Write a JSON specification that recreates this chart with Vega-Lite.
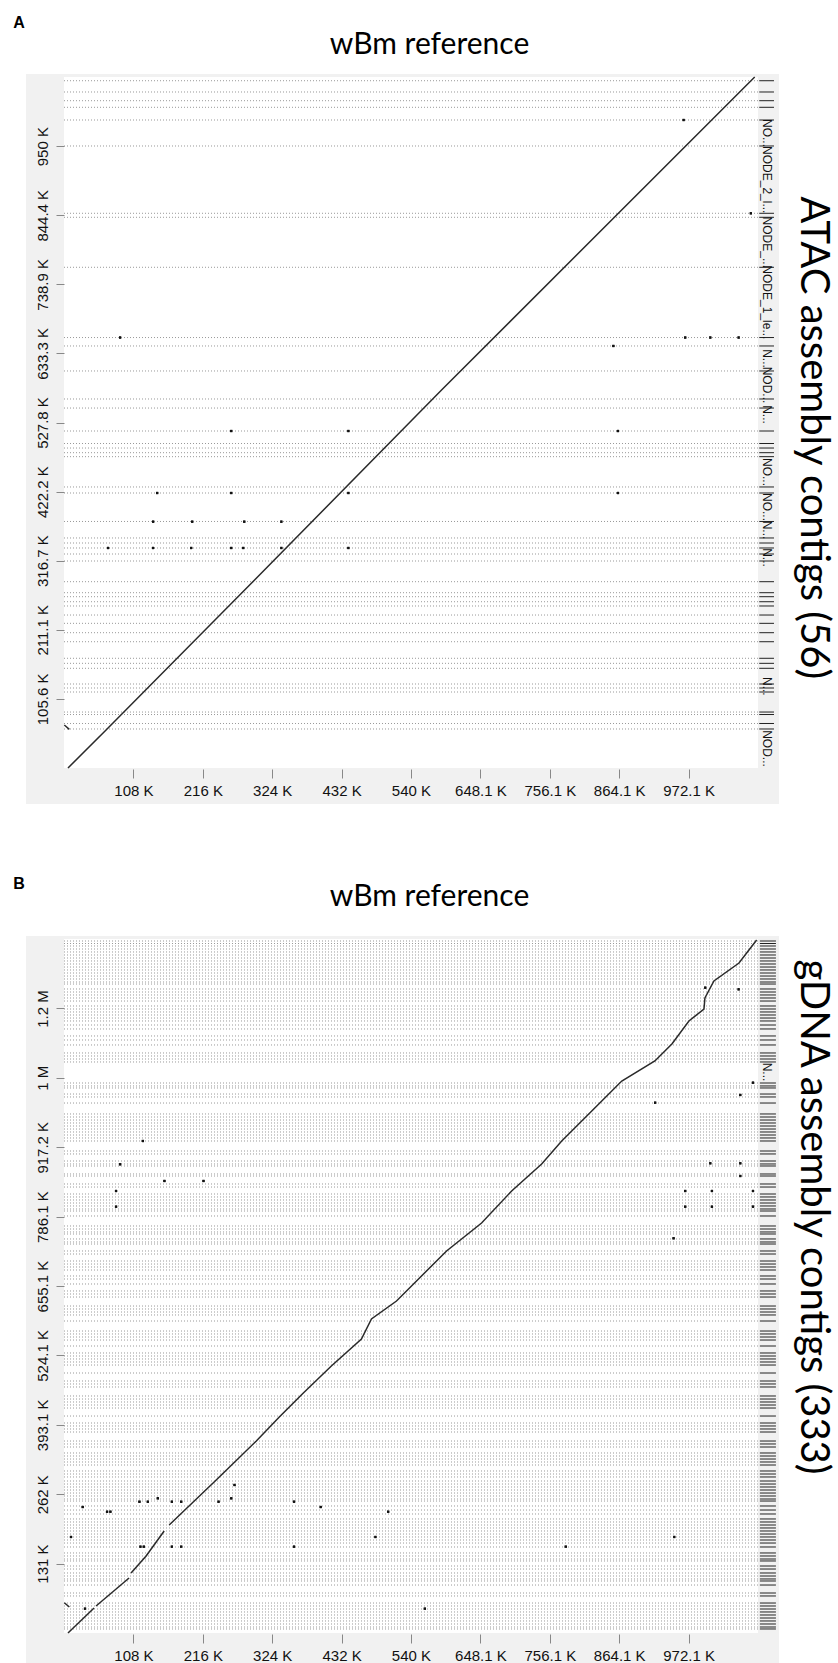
{
"$schema": "https://vega.github.io/schema/vega-lite/v6.json",
"background": "white",
"padding": {"left": 13, "top": 15, "right": 40, "bottom": 0},
"spacing": 71,
"config": {"view": {"stroke": null}},
"datasets": {
"boundsA": [{"pos":1049900},{"pos":1032700},{"pos":1019400},{"pos":1009300},{"pos":989900},{"pos":950200},{"pos":847400},{"pos":841300},{"pos":764900},{"pos":657600},{"pos":644700},{"pos":606500},{"pos":563700},{"pos":549900},{"pos":514800},{"pos":495700},{"pos":488800},{"pos":481700},{"pos":475600},{"pos":429300},{"pos":420100},{"pos":376600},{"pos":351400},{"pos":343700},{"pos":336100},{"pos":326900},{"pos":316200},{"pos":284600},{"pos":267800},{"pos":261700},{"pos":254000},{"pos":247500},{"pos":233700},{"pos":221000},{"pos":206700},{"pos":192900},{"pos":167600},{"pos":159900},{"pos":152300},{"pos":128300},{"pos":122200},{"pos":116100},{"pos":85500},{"pos":81700},{"pos":68000},{"pos":59600}],
"labelsA": [{"pos":970100,"label":"NO..."},{"pos":898700,"label":"NODE_2_l..."},{"pos":803100,"label":"NODE_..."},{"pos":711300,"label":"NODE_1_le..."},{"pos":625600,"label":"N..."},{"pos":585100,"label":"NOD..."},{"pos":540000,"label":"N..."},{"pos":452200,"label":"NO..."},{"pos":398700,"label":"NO..."},{"pos":363600,"label":"N..."},{"pos":321600,"label":"N..."},{"pos":124800,"label":"N..."},{"pos":29800,"label":"NOD..."}],
"dotsA": [{"x":68600,"y":336100},{"x":138700,"y":336100},{"x":197900,"y":336100},{"x":260300,"y":336100},{"x":279000,"y":336100},{"x":338200,"y":336100},{"x":442600,"y":336100},{"x":138700,"y":376300},{"x":199500,"y":376300},{"x":280500,"y":376300},{"x":338200,"y":376300},{"x":145000,"y":420100},{"x":260300,"y":420100},{"x":442600,"y":420100},{"x":862000,"y":420100},{"x":260300,"y":514800},{"x":442600,"y":514800},{"x":862000,"y":514800},{"x":87300,"y":657600},{"x":966800,"y":657600},{"x":1005800,"y":657600},{"x":1050000,"y":657600},{"x":855000,"y":644700},{"x":964300,"y":989900},{"x":1069000,"y":847400}],
"alnA": [{"seg":1,"x":6200,"y":0},{"seg":1,"x":67000,"y":59600},{"seg":1,"x":296600,"y":287200},{"seg":1,"x":587600,"y":577400},{"seg":1,"x":1075000,"y":1055600},{"seg":2,"x":500,"y":65700},{"seg":2,"x":8300,"y":59100}],
"boundsB": [{"pos":1306600},{"pos":1301900},{"pos":1297200},{"pos":1291500},{"pos":1285900},{"pos":1280200},{"pos":1274500},{"pos":1268900},{"pos":1263200},{"pos":1257500},{"pos":1251900},{"pos":1246200},{"pos":1240500},{"pos":1234900},{"pos":1229200},{"pos":1225400},{"pos":1216000},{"pos":1210300},{"pos":1204700},{"pos":1199000},{"pos":1193300},{"pos":1183900},{"pos":1178200},{"pos":1172600},{"pos":1166900},{"pos":1161200},{"pos":1155600},{"pos":1148000},{"pos":1140500},{"pos":1127300},{"pos":1119700},{"pos":1110300},{"pos":1095200},{"pos":1089500},{"pos":1083800},{"pos":1078200},{"pos":1038500},{"pos":1032900},{"pos":1029100},{"pos":1017700},{"pos":1012100},{"pos":1000700},{"pos":980000},{"pos":974300},{"pos":968600},{"pos":963000},{"pos":957300},{"pos":951600},{"pos":946000},{"pos":940300},{"pos":934700},{"pos":929000},{"pos":910100},{"pos":904500},{"pos":891200},{"pos":885600},{"pos":881800},{"pos":866700},{"pos":862900},{"pos":847800},{"pos":842100},{"pos":828900},{"pos":823300},{"pos":817600},{"pos":811900},{"pos":806300},{"pos":800600},{"pos":796800},{"pos":787400},{"pos":768500},{"pos":762800},{"pos":757200},{"pos":753400},{"pos":744000},{"pos":738300},{"pos":734500},{"pos":721300},{"pos":715600},{"pos":702400},{"pos":696700},{"pos":691100},{"pos":685400},{"pos":674100},{"pos":668400},{"pos":659000},{"pos":645800},{"pos":640100},{"pos":634400},{"pos":617400},{"pos":611800},{"pos":606100},{"pos":600500},{"pos":589100},{"pos":570200},{"pos":564600},{"pos":558900},{"pos":553200},{"pos":541900},{"pos":528700},{"pos":523000},{"pos":517400},{"pos":511700},{"pos":506000},{"pos":490900},{"pos":475800},{"pos":470200},{"pos":464500},{"pos":447500},{"pos":441800},{"pos":436200},{"pos":430500},{"pos":424800},{"pos":409700},{"pos":396500},{"pos":390900},{"pos":385200},{"pos":379500},{"pos":362500},{"pos":356900},{"pos":351200},{"pos":339900},{"pos":334200},{"pos":328500},{"pos":322900},{"pos":317200},{"pos":305900},{"pos":300200},{"pos":294600},{"pos":287000},{"pos":281300},{"pos":275700},{"pos":270000},{"pos":264300},{"pos":258700},{"pos":253000},{"pos":249200},{"pos":239800},{"pos":232200},{"pos":224700},{"pos":215300},{"pos":209600},{"pos":203900},{"pos":198300},{"pos":192600},{"pos":186900},{"pos":181300},{"pos":175600},{"pos":169900},{"pos":162400},{"pos":151100},{"pos":145400},{"pos":139700},{"pos":136000},{"pos":126500},{"pos":120800},{"pos":113300},{"pos":107600},{"pos":102000},{"pos":98200},{"pos":90600},{"pos":75500},{"pos":69900},{"pos":56600},{"pos":51000},{"pos":45300},{"pos":39700},{"pos":34000},{"pos":28300},{"pos":22700},{"pos":17000},{"pos":11300},{"pos":7600}],
"labelsB": [{"pos":1059300,"label":"N..."}],
"dotsB": [{"x":29100,"y":237900},{"x":67000,"y":229000},{"x":72200,"y":229000},{"x":117400,"y":247900},{"x":130500,"y":247900},{"x":146000,"y":254300},{"x":167900,"y":247900},{"x":182400,"y":247900},{"x":240500,"y":247900},{"x":260300,"y":254300},{"x":265400,"y":279500},{"x":358000,"y":247900},{"x":399500,"y":237900},{"x":504500,"y":229000},{"x":10900,"y":181300},{"x":118900,"y":163000},{"x":124200,"y":163000},{"x":167900,"y":163000},{"x":182400,"y":163000},{"x":358000,"y":163000},{"x":484700,"y":181300},{"x":32700,"y":45900},{"x":780900,"y":163000},{"x":949700,"y":181300},{"x":561600,"y":45900},{"x":122700,"y":929000},{"x":87300,"y":885000},{"x":81000,"y":834600},{"x":81000,"y":805000},{"x":156300,"y":853500},{"x":217100,"y":853500},{"x":1050000,"y":1215400},{"x":998000,"y":1218500},{"x":920000,"y":1001300},{"x":1052500,"y":1015900},{"x":1072300,"y":1039100},{"x":1052500,"y":886900},{"x":1005800,"y":886900},{"x":1052500,"y":862900},{"x":966800,"y":834600},{"x":1008400,"y":834600},{"x":1072300,"y":834600},{"x":966800,"y":805000},{"x":1008400,"y":805000},{"x":1072300,"y":805000},{"x":948700,"y":745300}],
"alnB": [{"seg":1,"x":6200,"y":0},{"seg":1,"x":46800,"y":47200},{"seg":2,"x":49900,"y":51000},{"seg":2,"x":101300,"y":103900},{"seg":3,"x":104400,"y":113300},{"seg":3,"x":127800,"y":145400},{"seg":3,"x":155900,"y":192600},{"seg":4,"x":163700,"y":203900},{"seg":4,"x":235300,"y":287000},{"seg":4,"x":299300,"y":362500},{"seg":4,"x":335100,"y":407900},{"seg":4,"x":372500,"y":453200},{"seg":4,"x":416100,"y":504200},{"seg":4,"x":462900,"y":555100},{"seg":4,"x":478500,"y":592900},{"seg":4,"x":517500,"y":626900},{"seg":4,"x":556400,"y":674100},{"seg":4,"x":595400,"y":721300},{"seg":4,"x":649900,"y":774200},{"seg":4,"x":696700,"y":834600},{"seg":4,"x":743400,"y":885600},{"seg":4,"x":774600,"y":929000},{"seg":4,"x":821400,"y":985600},{"seg":4,"x":868100,"y":1042300},{"seg":4,"x":919600,"y":1080100},{"seg":4,"x":946100,"y":1112200},{"seg":4,"x":972600,"y":1155600},{"seg":4,"x":996000,"y":1178200},{"seg":4,"x":997500,"y":1199000},{"seg":4,"x":1011500,"y":1231100},{"seg":4,"x":1050500,"y":1265100},{"seg":4,"x":1078000,"y":1308500},{"seg":5,"x":500,"y":57200},{"seg":5,"x":8300,"y":49100}]
},
"vconcat": [
{
"width": 694, "height": 691,
"layer": [
{"data": {"values": [{}]}, "mark": {"type": "rect", "color": "#f1f1f1", "clip": false},
 "encoding": {"x": {"datum": -59200, "type": "quantitative", "scale": {"domain": [0, 1080100], "nice": false, "zero": false}}, "x2": {"datum": 1112800},
  "y": {"datum": -55000, "type": "quantitative", "scale": {"domain": [0, 1055600], "nice": false, "zero": false}}, "y2": {"datum": 1060200}}},
{"data": {"values": [{}]}, "mark": {"type": "rect", "color": "white"},
 "encoding": {"x": {"datum": 0, "type": "quantitative", "scale": {"domain": [0, 1080100], "nice": false, "zero": false}}, "x2": {"datum": 1080100},
  "y": {"datum": 0, "type": "quantitative", "scale": {"domain": [0, 1055600], "nice": false, "zero": false}}, "y2": {"datum": 1055600}}},
{"data": {"name": "dotsA"}, "mark": {"type": "square", "size": 5, "color": "#111", "opacity": 1},
 "encoding": {"x": {"field": "x", "type": "quantitative", "scale": {"domain": [0, 1080100], "nice": false, "zero": false},
   "axis": {"values": [108000,216000,324000,432000,540000,648100,756100,864100,972100], "labelExpr": "format(datum.value/1000, '.1~f') + ' K'", "title": null, "domain": false, "grid": false, "ticks": true, "labels": true, "tickColor": "#888", "tickSize": 9, "offset": 1, "labelFont": "Liberation Sans Narrow, Liberation Sans, sans-serif", "labelFontSize": 15, "labelColor": "#111", "labelPadding": 5, "labelFlush": false, "labelOverlap": false, "zindex": 1}},
  "y": {"field": "y", "type": "quantitative", "scale": {"domain": [0, 1055600], "nice": false, "zero": false},
   "axis": {"values": [105600,211100,316700,422200,527800,633300,738900,844400,950000], "labelExpr": "format(datum.value/1000, '.1~f') + ' K'", "title": null, "domain": false, "grid": false, "ticks": true, "labels": true, "tickColor": "#888", "tickSize": 8, "labelAngle": -90, "labelAlign": "center", "labelBaseline": "bottom", "labelFont": "Liberation Sans Narrow, Liberation Sans, sans-serif", "labelFontSize": 15, "labelColor": "#111", "labelPadding": 6, "labelFlush": false, "labelOverlap": false, "zindex": 1}}}},
{"data": {"name": "boundsA"}, "mark": {"type": "rule", "color": "#999", "strokeDash": [1, 2], "strokeWidth": 1},
 "encoding": {"y": {"field": "pos", "type": "quantitative", "scale": {"domain": [0, 1055600], "nice": false, "zero": false}},
  "x": {"datum": 0, "type": "quantitative", "scale": {"domain": [0, 1080100], "nice": false, "zero": false}}, "x2": {"datum": 1080100}}},
{"data": {"name": "boundsA"}, "mark": {"type": "rule", "color": "#222", "strokeWidth": 1, "clip": false},
 "encoding": {"y": {"field": "pos", "type": "quantitative", "scale": {"domain": [0, 1055600], "nice": false, "zero": false}},
  "x": {"datum": 1082000, "type": "quantitative", "scale": {"domain": [0, 1080100], "nice": false, "zero": false}}, "x2": {"datum": 1105000}}},
{"data": {"name": "labelsA"}, "mark": {"type": "text", "angle": 90, "font": "Liberation Sans Narrow, Liberation Sans, sans-serif", "fontSize": 12, "color": "#111", "align": "center", "baseline": "middle", "clip": false},
 "encoding": {"y": {"field": "pos", "type": "quantitative", "scale": {"domain": [0, 1055600], "nice": false, "zero": false}},
  "x": {"datum": 1094000, "type": "quantitative", "scale": {"domain": [0, 1080100], "nice": false, "zero": false}}, "text": {"field": "label"}}},
{"data": {"name": "dotsA"}, "mark": {"type": "square", "size": 5, "color": "#111", "opacity": 1},
 "encoding": {"x": {"field": "x", "type": "quantitative", "scale": {"domain": [0, 1080100], "nice": false, "zero": false}},
  "y": {"field": "y", "type": "quantitative", "scale": {"domain": [0, 1055600], "nice": false, "zero": false}}}},
{"data": {"name": "alnA"}, "mark": {"type": "line", "color": "#2a2a2a", "strokeWidth": 1.5},
 "encoding": {"x": {"field": "x", "type": "quantitative", "scale": {"domain": [0, 1080100], "nice": false, "zero": false}},
  "y": {"field": "y", "type": "quantitative", "scale": {"domain": [0, 1055600], "nice": false, "zero": false}}, "detail": {"field": "seg"}}},
{"data": {"values": [{}]}, "mark": {"type": "text", "text": "ATAC assembly contigs (56)", "angle": 90, "font": "Lato", "fontSize": 40, "color": "#000", "align": "center", "baseline": "middle", "clip": false},
 "encoding": {"x": {"datum": 1165800, "type": "quantitative", "scale": {"domain": [0, 1080100], "nice": false, "zero": false}},
  "y": {"datum": 504600, "type": "quantitative", "scale": {"domain": [0, 1055600], "nice": false, "zero": false}}}},
{"data": {"values": [{}]}, "mark": {"type": "text", "text": "wBm reference", "font": "Lato", "fontSize": 30, "color": "#000", "align": "center", "baseline": "middle", "clip": false},
 "encoding": {"x": {"datum": 568900, "type": "quantitative", "scale": {"domain": [0, 1080100], "nice": false, "zero": false}},
  "y": {"datum": 1104500, "type": "quantitative", "scale": {"domain": [0, 1055600], "nice": false, "zero": false}}}},
{"data": {"values": [{}]}, "mark": {"type": "text", "text": "A", "font": "Liberation Sans", "fontSize": 16, "fontWeight": "bold", "color": "#000", "align": "center", "baseline": "middle", "clip": false},
 "encoding": {"x": {"datum": -70000, "type": "quantitative", "scale": {"domain": [0, 1080100], "nice": false, "zero": false}},
  "y": {"datum": 1138000, "type": "quantitative", "scale": {"domain": [0, 1055600], "nice": false, "zero": false}}}}
]
},
{
"width": 694, "height": 694,
"layer": [
{"data": {"values": [{}]}, "mark": {"type": "rect", "color": "#f1f1f1", "clip": false},
 "encoding": {"x": {"datum": -59200, "type": "quantitative", "scale": {"domain": [0, 1080100], "nice": false, "zero": false}}, "x2": {"datum": 1112800},
  "y": {"datum": -68000, "type": "quantitative", "scale": {"domain": [0, 1310400], "nice": false, "zero": false}}, "y2": {"datum": 1316000}}},
{"data": {"values": [{}]}, "mark": {"type": "rect", "color": "white"},
 "encoding": {"x": {"datum": 0, "type": "quantitative", "scale": {"domain": [0, 1080100], "nice": false, "zero": false}}, "x2": {"datum": 1080100},
  "y": {"datum": 0, "type": "quantitative", "scale": {"domain": [0, 1310400], "nice": false, "zero": false}}, "y2": {"datum": 1310400}}},
{"data": {"name": "dotsB"}, "mark": {"type": "square", "size": 5, "color": "#111", "opacity": 1},
 "encoding": {"x": {"field": "x", "type": "quantitative", "scale": {"domain": [0, 1080100], "nice": false, "zero": false},
   "axis": {"values": [108000,216000,324000,432000,540000,648100,756100,864100,972100], "labelExpr": "format(datum.value/1000, '.1~f') + ' K'", "title": null, "domain": false, "grid": false, "ticks": true, "labels": true, "tickColor": "#888", "tickSize": 9, "offset": 1, "labelFont": "Liberation Sans Narrow, Liberation Sans, sans-serif", "labelFontSize": 15, "labelColor": "#111", "labelPadding": 5, "labelFlush": false, "labelOverlap": false, "zindex": 1}},
  "y": {"field": "y", "type": "quantitative", "scale": {"domain": [0, 1310400], "nice": false, "zero": false},
   "axis": {"values": [131000,262000,393100,524100,655100,786100,917200,1048200,1179200], "labelExpr": "datum.value >= 1000000 ? format(datum.value/1000000, '.1~f') + ' M' : format(datum.value/1000, '.1~f') + ' K'", "title": null, "domain": false, "grid": false, "ticks": true, "labels": true, "tickColor": "#888", "tickSize": 8, "labelAngle": -90, "labelAlign": "center", "labelBaseline": "bottom", "labelFont": "Liberation Sans Narrow, Liberation Sans, sans-serif", "labelFontSize": 15, "labelColor": "#111", "labelPadding": 6, "labelFlush": false, "labelOverlap": false, "zindex": 1}}}},
{"data": {"name": "boundsB"}, "mark": {"type": "rule", "color": "#999", "strokeDash": [1, 2], "strokeWidth": 1},
 "encoding": {"y": {"field": "pos", "type": "quantitative", "scale": {"domain": [0, 1310400], "nice": false, "zero": false}},
  "x": {"datum": 0, "type": "quantitative", "scale": {"domain": [0, 1080100], "nice": false, "zero": false}}, "x2": {"datum": 1080100}}},
{"data": {"name": "boundsB"}, "mark": {"type": "rule", "color": "#222", "strokeWidth": 1, "clip": false},
 "encoding": {"y": {"field": "pos", "type": "quantitative", "scale": {"domain": [0, 1310400], "nice": false, "zero": false}},
  "x": {"datum": 1083000, "type": "quantitative", "scale": {"domain": [0, 1080100], "nice": false, "zero": false}}, "x2": {"datum": 1108000}}},
{"data": {"name": "labelsB"}, "mark": {"type": "text", "angle": 90, "font": "Liberation Sans Narrow, Liberation Sans, sans-serif", "fontSize": 12, "color": "#111", "align": "center", "baseline": "middle", "clip": false},
 "encoding": {"y": {"field": "pos", "type": "quantitative", "scale": {"domain": [0, 1310400], "nice": false, "zero": false}},
  "x": {"datum": 1094000, "type": "quantitative", "scale": {"domain": [0, 1080100], "nice": false, "zero": false}}, "text": {"field": "label"}}},
{"data": {"name": "dotsB"}, "mark": {"type": "square", "size": 5, "color": "#111", "opacity": 1},
 "encoding": {"x": {"field": "x", "type": "quantitative", "scale": {"domain": [0, 1080100], "nice": false, "zero": false}},
  "y": {"field": "y", "type": "quantitative", "scale": {"domain": [0, 1310400], "nice": false, "zero": false}}}},
{"data": {"name": "alnB"}, "mark": {"type": "line", "color": "#2a2a2a", "strokeWidth": 1.5},
 "encoding": {"x": {"field": "x", "type": "quantitative", "scale": {"domain": [0, 1080100], "nice": false, "zero": false}},
  "y": {"field": "y", "type": "quantitative", "scale": {"domain": [0, 1310400], "nice": false, "zero": false}}, "detail": {"field": "seg"}}},
{"data": {"values": [{}]}, "mark": {"type": "text", "text": "gDNA assembly contigs (333)", "angle": 90, "font": "Lato", "fontSize": 40, "color": "#000", "align": "center", "baseline": "middle", "clip": false},
 "encoding": {"x": {"datum": 1165800, "type": "quantitative", "scale": {"domain": [0, 1080100], "nice": false, "zero": false}},
  "y": {"datum": 785500, "type": "quantitative", "scale": {"domain": [0, 1310400], "nice": false, "zero": false}}}},
{"data": {"values": [{}]}, "mark": {"type": "text", "text": "wBm reference", "font": "Lato", "fontSize": 30, "color": "#000", "align": "center", "baseline": "middle", "clip": false},
 "encoding": {"x": {"datum": 568900, "type": "quantitative", "scale": {"domain": [0, 1080100], "nice": false, "zero": false}},
  "y": {"datum": 1389700, "type": "quantitative", "scale": {"domain": [0, 1310400], "nice": false, "zero": false}}}},
{"data": {"values": [{}]}, "mark": {"type": "text", "text": "B", "font": "Liberation Sans", "fontSize": 16, "fontWeight": "bold", "color": "#000", "align": "center", "baseline": "middle", "clip": false},
 "encoding": {"x": {"datum": -70000, "type": "quantitative", "scale": {"domain": [0, 1080100], "nice": false, "zero": false}},
  "y": {"datum": 1414000, "type": "quantitative", "scale": {"domain": [0, 1310400], "nice": false, "zero": false}}}}
]
}
]
}
